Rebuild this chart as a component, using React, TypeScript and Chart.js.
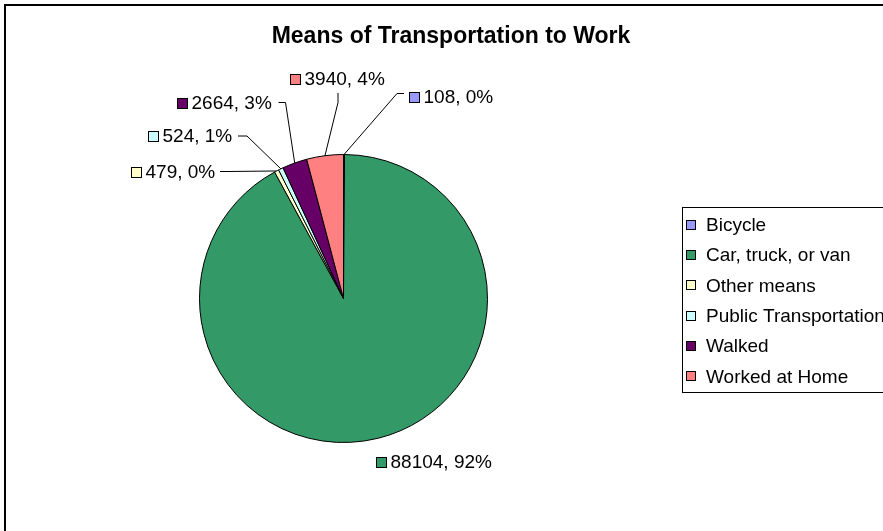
import React, { useEffect, useRef } from "react";
import { Chart, registerables } from "chart.js";

Chart.register(...registerables);

const chartTitle = "Means of Transportation to Work";
const categories = [
  "Bicycle",
  "Car, truck, or van",
  "Other means",
  "Public Transportation",
  "Walked",
  "Worked at Home",
];
const counts = [108, 88104, 479, 524, 2664, 3940];
const sliceColors = ["#9999FF", "#339966", "#FFFFCC", "#CCFFFF", "#660066", "#FF8080"];

// label placement relative to the pie centre (annotation layout, not data)
// sq: left x / centre y of the label's colour square; path: leader bend and end points
const labelLayout = [
  { sq: [65.5, -202], path: [[53.5, -205], [60.5, -205]] },
  { sq: [32.5, 163.5], path: [] },
  { sq: [-212.5, -126.5], path: [[-115.5, -127], [-123.5, -127]] },
  { sq: [-195.5, -162.5], path: [[-96.5, -162.5], [-105.5, -162.5]] },
  { sq: [-166.5, -196], path: [[-58, -196], [-65, -196]] },
  { sq: [-53.5, -219.5], path: [[-5.5, -196], [-5.5, -205.5]] },
];

const FONT = "Arial, 'Liberation Sans', sans-serif";

const decorPlugin = {
  id: "decor",
  beforeDraw(chart: any) {
    const ctx = chart.ctx;
    ctx.save();
    ctx.fillStyle = "#FFFFFF";
    ctx.fillRect(0, 0, chart.width, chart.height);
    ctx.restore();
  },
  afterDraw(chart: any) {
    const ctx = chart.ctx;
    const meta = chart.getDatasetMeta(0);
    const total = counts.reduce((a, b) => a + b, 0);
    ctx.save();
    // outer border
    ctx.strokeStyle = "#000000";
    ctx.lineWidth = 2;
    ctx.strokeRect(5, 5, 2000, 2000);

    // title
    ctx.fillStyle = "#000000";
    ctx.font = `bold 23px ${FONT}`;
    ctx.textAlign = "center";
    ctx.textBaseline = "alphabetic";
    ctx.fillText(chartTitle, 451, 43);

    // data labels
    const arc0 = meta.data[0];
    const cx = arc0.x;
    const cy = arc0.y;
    ctx.font = `19px ${FONT}`;
    ctx.textAlign = "left";
    meta.data.forEach((arc: any, i: number) => {
      const lay = labelLayout[i];
      const mid = (arc.startAngle + arc.endAngle) / 2;
      const r = arc.outerRadius;
      const ax = cx + Math.cos(mid) * r;
      const ay = cy + Math.sin(mid) * r;
      if (lay.path.length) {
        ctx.strokeStyle = "#000000";
        ctx.lineWidth = 1;
        ctx.beginPath();
        ctx.moveTo(ax, ay);
        lay.path.forEach((p: number[]) => ctx.lineTo(cx + p[0], cy + p[1]));
        ctx.stroke();
      }
      const sx = Math.round(cx + lay.sq[0]) + 0.5;
      const sy = Math.round(cy + lay.sq[1] - 5) + 0.5;
      ctx.fillStyle = sliceColors[i];
      ctx.fillRect(sx, sy, 10, 10);
      ctx.strokeStyle = "#000000";
      ctx.lineWidth = 1;
      ctx.strokeRect(sx, sy, 10, 10);
      const pct = Math.round((counts[i] / total) * 100);
      ctx.fillStyle = "#000000";
      ctx.fillText(`${counts[i]}, ${pct}%`, sx + 14, cy + lay.sq[1] + 6);
    });

    // legend
    ctx.strokeStyle = "#000000";
    ctx.lineWidth = 1;
    ctx.strokeRect(682.5, 207.5, 400, 185);
    ctx.font = `19px ${FONT}`;
    categories.forEach((name, i) => {
      const yc = 224 + i * 30.35;
      const sx = 686.5;
      const sy = Math.round(yc - 4.5) + 0.5;
      ctx.fillStyle = sliceColors[i];
      ctx.fillRect(sx, sy, 9, 9);
      ctx.strokeRect(sx, sy, 9, 9);
      ctx.fillStyle = "#000000";
      ctx.fillText(name, 706, yc + 7);
    });
    ctx.restore();
  },
};

export default function App() {
  const ref = useRef<HTMLCanvasElement>(null);
  useEffect(() => {
    if (!ref.current) return;
    const chart = new Chart(ref.current, {
      type: "pie",
      data: {
        labels: categories,
        datasets: [
          {
            data: counts,
            backgroundColor: sliceColors,
            borderColor: "#000000",
            borderWidth: 1,
            hoverOffset: 0,
            offset: 0,
          },
        ],
      },
      options: {
        responsive: false,
        animation: false,
        events: [],
        layout: { padding: { left: 199, right: 395, top: 154, bottom: 88 } },
        plugins: {
          legend: { display: false },
          title: { display: false },
          tooltip: { enabled: false },
        },
      },
      plugins: [decorPlugin],
    } as any);
    return () => chart.destroy();
  }, []);
  return (
    <div style={{ position: "fixed", left: 0, top: 0, width: 883, height: 531 }}>
      <canvas ref={ref} width={883} height={531} style={{ display: "block" }} />
    </div>
  );
}
